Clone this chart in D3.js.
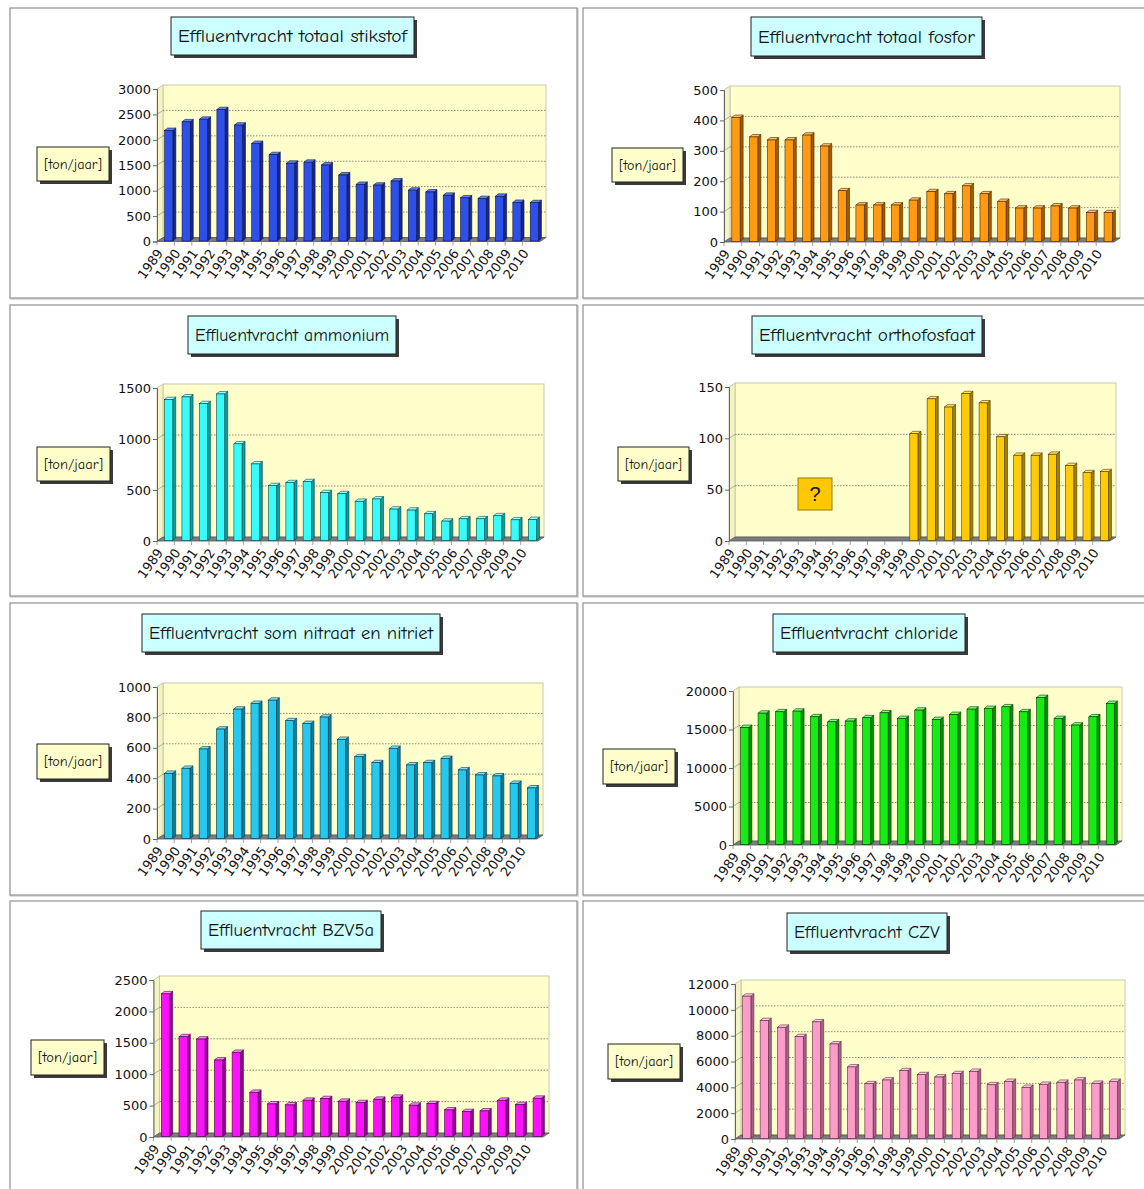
<!DOCTYPE html>
<html>
<head>
<meta charset="utf-8">
<script src="https://cdn.jsdelivr.net/npm/d3@7"></script>
<style>
  body { margin: 0; background: #fff; }
  svg { display: block; }
</style>
</head>
<body>
<svg id="chart" width="1144" height="1189"></svg>
<script>
// --- data ---
const years = ["1989", "1990", "1991", "1992", "1993", "1994", "1995", "1996", "1997", "1998", "1999",
  "2000", "2001", "2002", "2003", "2004", "2005", "2006", "2007", "2008", "2009", "2010"];

const stikstof = [2175, 2345, 2395, 2585, 2280, 1920, 1700, 1530, 1550, 1495, 1300,
  1115, 1100, 1180, 1000, 965, 900, 850, 835, 880, 760, 755];
const fosfor = [408, 344, 334, 334, 350, 314, 167, 120, 120, 120, 136,
  164, 157, 183, 157, 132, 110, 110, 117, 110, 95, 95];
const ammonium = [1382, 1408, 1342, 1437, 948, 751, 538, 567, 577, 469, 459,
  384, 407, 308, 298, 262, 190, 213, 213, 243, 203, 206];
const orthofosfaat = [null, null, null, null, null, null, null, null, null, null, 104,
  138, 130, 143, 134, 101, 83, 83, 84, 73, 66, 67];
const nitraatNitriet = [429, 462, 589, 720, 851, 889, 910, 775, 757, 799, 652,
  538, 499, 593, 484, 499, 527, 451, 418, 412, 363, 333];
const chloride = [15200, 17060, 17240, 17320, 16590, 15940, 16030, 16460, 17110, 16370, 17450,
  16240, 16890, 17580, 17670, 17880, 17240, 19090, 16370, 15510, 16590, 18320];
const bzv5a = [2272, 1589, 1552, 1218, 1340, 704, 519, 503, 577, 604, 561,
  540, 593, 625, 498, 524, 424, 397, 408, 577, 508, 609];
const czv = [11020, 9130, 8610, 7890, 9030, 7320, 5540, 4240, 4530, 5250, 4940,
  4760, 5020, 5200, 4160, 4420, 3960, 4190, 4350, 4530, 4270, 4420];

const stikstofTicks = [0, 500, 1000, 1500, 2000, 2500, 3000];
const fosforTicks = [0, 100, 200, 300, 400, 500];
const ammoniumTicks = [0, 500, 1000, 1500];
const orthoTicks = [0, 50, 100, 150];
const nitraatTicks = [0, 200, 400, 600, 800, 1000];
const chlorideTicks = [0, 5000, 10000, 15000, 20000];
const bzvTicks = [0, 500, 1000, 1500, 2000, 2500];
const czvTicks = [0, 2000, 4000, 6000, 8000, 10000, 12000];

const unitLabel = "[ton/jaar]";

// --- bar palettes (front, side, top, edge) ---
const palettes = {
  blue:    ["#2f50e8", "#18278a", "#6683f2", "#0b1245"],
  orange:  ["#ff9a12", "#a35a00", "#ffc466", "#4a2700"],
  cyan:    ["#38fcfc", "#139a9a", "#a3ffff", "#024848"],
  gold:    ["#ffcc05", "#a38200", "#ffe36b", "#4a3900"],
  sky:     ["#25c8ee", "#0f7f9a", "#86e4f7", "#023646"],
  green:   ["#14ec14", "#078e07", "#85fb85", "#033503"],
  magenta: ["#fb12fb", "#960096", "#ff8cff", "#450045"],
  pink:    ["#fb9ccb", "#ad5f86", "#ffcbe4", "#5a2840"]
};

// --- layout per panel ---
const panels = [
  { title: "Effluentvracht totaal stikstof", values: stikstof, ticks: stikstofTicks, pal: palettes.blue,
    frame: [10, 8, 567, 290], titleBox: [171, 17, 243, 38], unitBox: [37, 147, 72, 34],
    axisX: 157, yTop: 89, yBot: 241.5, right: 546 },
  { title: "Effluentvracht totaal fosfor", values: fosfor, ticks: fosforTicks, pal: palettes.orange,
    frame: [583, 8, 570, 290], titleBox: [751, 17, 231, 39], unitBox: [612, 148, 71, 34],
    axisX: 724, yTop: 90, yBot: 242, right: 1120 },
  { title: "Effluentvracht ammonium", values: ammonium, ticks: ammoniumTicks, pal: palettes.cyan,
    frame: [10, 305, 567, 291], titleBox: [188, 316, 208, 38], unitBox: [37, 447, 73, 34],
    axisX: 157, yTop: 388, yBot: 541, right: 544 },
  { title: "Effluentvracht orthofosfaat", values: orthofosfaat, ticks: orthoTicks, pal: palettes.gold,
    frame: [583, 305, 570, 291], titleBox: [752, 316, 230, 38], unitBox: [618, 447, 71, 34],
    axisX: 729, yTop: 387, yBot: 541, right: 1116, unknown: [798, 478, 34, 32] },
  { title: "Effluentvracht som nitraat en nitriet", values: nitraatNitriet, ticks: nitraatTicks, pal: palettes.sky,
    frame: [10, 603, 567, 292], titleBox: [142, 614, 298, 38], unitBox: [37, 744, 72, 35],
    axisX: 157, yTop: 687, yBot: 839, right: 543 },
  { title: "Effluentvracht chloride", values: chloride, ticks: chlorideTicks, pal: palettes.green,
    frame: [583, 603, 570, 292], titleBox: [773, 614, 192, 38], unitBox: [603, 749, 72, 35],
    axisX: 733, yTop: 691, yBot: 845, right: 1122 },
  { title: "Effluentvracht BZV5a", values: bzv5a, ticks: bzvTicks, pal: palettes.magenta,
    frame: [10, 901, 567, 300], titleBox: [201, 911, 180, 38], unitBox: [31, 1040, 73, 35],
    axisX: 153.5, yTop: 980, yBot: 1137, right: 549 },
  { title: "Effluentvracht CZV", values: czv, ticks: czvTicks, pal: palettes.pink,
    frame: [583, 901, 570, 300], titleBox: [787, 913, 160, 38], unitBox: [608, 1044, 72, 35],
    axisX: 735, yTop: 984, yBot: 1139, right: 1125 }
];

const svg = d3.select("#chart");
const tickFont = "'DejaVu Sans', Verdana, sans-serif";
const comicFont = "'Comic Sans MS', 'Comic Neue', 'Open Sans', sans-serif";

// 3D depth of the walls
const dx = 6, dy = -4;

function shadowBox(g, box, fill, text, size) {
  const [bx, by, bwid, bhei] = box;
  g.append("rect")
    .attr("x", bx + 3).attr("y", by + 3)
    .attr("width", bwid).attr("height", bhei)
    .attr("fill", "#3a3a3a");
  g.append("rect")
    .attr("x", bx).attr("y", by)
    .attr("width", bwid).attr("height", bhei)
    .attr("fill", fill)
    .attr("stroke", "#222")
    .attr("stroke-width", 1);
  g.append("text")
    .attr("x", bx + bwid / 2)
    .attr("y", by + bhei / 2)
    .attr("dy", "0.36em")
    .attr("text-anchor", "middle")
    .attr("font-family", comicFont)
    .attr("font-size", size)
    .attr("textLength", bwid - 14)
    .attr("lengthAdjust", "spacingAndGlyphs")
    .attr("fill", "#111")
    .text(text);
}

function drawPanel(p) {
  const g = svg.append("g");

  // frame
  g.append("rect")
    .attr("x", p.frame[0] + 1).attr("y", p.frame[1] + 1)
    .attr("width", p.frame[2]).attr("height", p.frame[3])
    .attr("fill", "none")
    .attr("stroke", "#dcdcdc")
    .attr("stroke-width", 2);
  g.append("rect")
    .attr("x", p.frame[0]).attr("y", p.frame[1])
    .attr("width", p.frame[2]).attr("height", p.frame[3])
    .attr("fill", "#fff")
    .attr("stroke", "#8f8f8f")
    .attr("stroke-width", 1.2);

  const frontRight = p.right - dx;
  const y = d3.scaleLinear()
    .domain([0, d3.max(p.ticks)])
    .range([p.yBot, p.yTop]);
  const x = d3.scaleBand()
    .domain(years)
    .range([p.axisX, frontRight]);
  const step = x.step();

  // back wall
  g.append("rect")
    .attr("x", p.axisX + dx).attr("y", p.yTop + dy)
    .attr("width", p.right - p.axisX - dx)
    .attr("height", p.yBot - p.yTop)
    .attr("fill", "#ffffcc")
    .attr("stroke", "#c8c8b0")
    .attr("stroke-width", 1);

  // left side wall
  g.append("polygon")
    .attr("points", [
      [p.axisX, p.yTop], [p.axisX + dx, p.yTop + dy],
      [p.axisX + dx, p.yBot + dy], [p.axisX, p.yBot]
    ].join(" "))
    .attr("fill", "#f4f4c2")
    .attr("stroke", "#c8c8b0")
    .attr("stroke-width", 1);

  // gridlines on the back wall
  g.selectAll("line.grid")
    .data(p.ticks.filter(t => t > 0 && t < d3.max(p.ticks)))
    .enter()
    .append("line")
    .attr("class", "grid")
    .attr("x1", p.axisX + dx)
    .attr("x2", p.right)
    .attr("y1", d => y(d) + dy)
    .attr("y2", d => y(d) + dy)
    .attr("stroke", "#8a8a78")
    .attr("stroke-width", 1)
    .attr("stroke-dasharray", "1.5,1.5");

  g.selectAll("line.sidegrid")
    .data(p.ticks.filter(t => t > 0 && t < d3.max(p.ticks)))
    .enter()
    .append("line")
    .attr("class", "sidegrid")
    .attr("x1", p.axisX)
    .attr("x2", p.axisX + dx)
    .attr("y1", d => y(d))
    .attr("y2", d => y(d) + dy)
    .attr("stroke", "#a0a090")
    .attr("stroke-width", 0.8);

  // floor
  g.append("polygon")
    .attr("points", [
      [p.axisX, p.yBot], [frontRight, p.yBot],
      [p.right, p.yBot + dy], [p.axisX + dx, p.yBot + dy]
    ].join(" "))
    .attr("fill", "#7d7d7d")
    .attr("stroke", "#555")
    .attr("stroke-width", 0.8);

  // x tick marks below the floor
  g.selectAll("line.xtick")
    .data(years)
    .enter()
    .append("line")
    .attr("class", "xtick")
    .attr("x1", d => x(d))
    .attr("x2", d => x(d))
    .attr("y1", p.yBot)
    .attr("y2", p.yBot + 4)
    .attr("stroke", "#888")
    .attr("stroke-width", 0.8);

  // bars
  const [cFront, cSide, cTop, cEdge] = p.pal;
  const bw = step * 0.47, bd = 3, bh = 2.4;
  const rows = p.values
    .map((v, i) => ({ year: years[i], v }))
    .filter(d => d.v != null);

  const bar = g.selectAll("g.bar")
    .data(rows)
    .enter()
    .append("g")
    .attr("class", "bar");

  const fx = d => x(d.year) + step * 0.44;
  const top = d => y(d.v) - 0.5;
  const bottom = p.yBot - 0.5;

  bar.append("polygon")
    .attr("points", d => [
      [fx(d) + bw, top(d)], [fx(d) + bw + bd, top(d) - bh],
      [fx(d) + bw + bd, bottom - bh], [fx(d) + bw, bottom]
    ].join(" "))
    .attr("fill", cSide)
    .attr("stroke", cEdge)
    .attr("stroke-width", 0.6);

  bar.append("polygon")
    .attr("points", d => [
      [fx(d), top(d)], [fx(d) + bd, top(d) - bh],
      [fx(d) + bw + bd, top(d) - bh], [fx(d) + bw, top(d)]
    ].join(" "))
    .attr("fill", cTop)
    .attr("stroke", cEdge)
    .attr("stroke-width", 0.6);

  bar.append("rect")
    .attr("x", fx)
    .attr("y", top)
    .attr("width", bw)
    .attr("height", d => bottom - top(d))
    .attr("fill", cFront)
    .attr("stroke", cEdge)
    .attr("stroke-width", 0.6);

  // y axis
  const yAxisG = g.append("g")
    .attr("transform", `translate(${p.axisX},0)`)
    .call(d3.axisLeft(y).tickValues(p.ticks).tickSize(4).tickPadding(2).tickFormat(d3.format("d")));
  yAxisG.select(".domain").attr("stroke", "#666");
  yAxisG.selectAll(".tick line").attr("stroke", "#666");
  yAxisG.selectAll("text")
    .attr("font-family", tickFont)
    .attr("font-size", 13)
    .attr("fill", "#111");

  // x labels
  const xAxisG = g.append("g")
    .attr("transform", `translate(0,${p.yBot})`)
    .call(d3.axisBottom(x).tickSize(0));
  xAxisG.select(".domain").remove();
  xAxisG.selectAll("text")
    .attr("x", 0)
    .attr("y", 0)
    .attr("dy", "0.35em")
    .attr("text-anchor", "end")
    .attr("transform", `translate(${3 - step / 2},9) rotate(-54)`)
    .attr("font-family", tickFont)
    .attr("font-size", 13)
    .attr("fill", "#111");

  // title and unit boxes
  shadowBox(g, p.titleBox, "#ccffff", p.title, 17);
  shadowBox(g, p.unitBox, "#ffffcc", unitLabel, 13.5);

  // unknown-data marker
  if (p.unknown) {
    const [qx, qy, qw, qh] = p.unknown;
    g.append("rect")
      .attr("x", qx).attr("y", qy)
      .attr("width", qw).attr("height", qh)
      .attr("fill", "#ffc800")
      .attr("stroke", "#9a7a00")
      .attr("stroke-width", 1);
    g.append("text")
      .attr("x", qx + qw / 2)
      .attr("y", qy + qh / 2)
      .attr("dy", "0.36em")
      .attr("text-anchor", "middle")
      .attr("font-family", "'Liberation Sans', Arial, sans-serif")
      .attr("font-size", 20)
      .attr("fill", "#111")
      .text("?");
  }
}

panels.forEach(drawPanel);
</script>
</body>
</html>
